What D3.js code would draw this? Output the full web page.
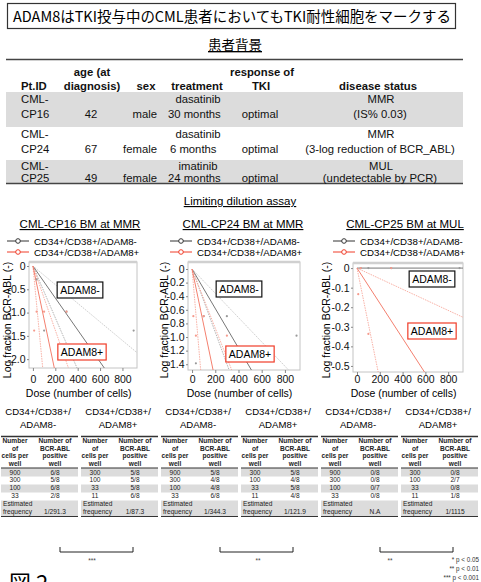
<!DOCTYPE html>
<html><head><meta charset="utf-8">
<script src="https://cdn.jsdelivr.net/npm/d3@7"></script>
<style>
body{margin:0;background:#fff}
svg{display:block;font-family:"Liberation Sans",Arial,sans-serif}
.jp{font-family:"Noto Sans CJK JP",sans-serif}
</style></head><body>
<svg width="481" height="582"></svg>
<script>
// patient background table
const patientIds = ["CML-CP16", "CML-CP24", "CML-CP25"];
const ages = [42, 67, 49];
const sexes = ["male", "female", "female"];
const drugs = ["dasatinib", "dasatinib", "imatinib"];
const durations = ["30 months", "6 months", "24 months"];
const responses = ["optimal", "optimal", "optimal"];
const statuses = ["MMR", "MMR", "MUL"];
const statusNotes = ["(IS% 0.03)", "(3-log reduction of BCR_ABL)", "(undetectable by PCR)"];

// limiting dilution assay
const chartTitles = ["CML-CP16 BM at MMR", "CML-CP24 BM at MMR", "CML-CP25 BM at MUL"];
const xTicks = [0, 200, 400, 600, 800];
const yTicks = [
  [0, -0.5, -1.0, -1.5, -2.0],
  [0, -0.2, -0.4, -0.6, -0.8, -1.0, -1.2, -1.4],
  [0, -0.1, -0.2, -0.3, -0.4, -0.5]
];
const negDoses = [900, 300, 100, 33];
const posDoses = [300, 100, 33, 11];
const negPositive = [[6, 5, 6, 2], [5, 4, 4, 6], [0, 0, 0, 0]];
const negWells = [[8, 8, 8, 8], [8, 8, 8, 8], [8, 8, 7, 8]];
const posPositive = [[5, 5, 5, 6], [5, 4, 5, 4], [0, 2, 0, 1]];
const posWells = [[8, 8, 8, 8], [8, 8, 8, 8], [8, 7, 8, 8]];
const negFreqText = ["1/291.3", "1/344.3", "N.A"];
const posFreqText = ["1/87.3", "1/121.9", "1/1115"];
// cells per positive cell: estimate and the two CI lines
const negEst = [291.3, 344.3, Infinity];
const negCiLo = [180, 215, null];
const negCiHi = [500, 560, null];
const posEst = [87.3, 121.9, 1115];
const posCiLo = [40, 50, 350];
const posCiHi = [145, 230, 3700];
const pStars = ["***", "**", "**"];
const pLegend = ["* p < 0.05", "** p < 0.01", "*** p < 0.001"];

const svg = d3.select("svg");

// title
svg.append("rect").attr("x", 7.5).attr("y", 3.5).attr("width", 448).attr("height", 25)
  .attr("fill", "none").attr("stroke", "#333").attr("stroke-width", 1.2);
svg.append("text").attr("class", "jp").attr("x", 13).attr("y", 22)
  .attr("font-size", 14.5).attr("textLength", 438).attr("lengthAdjust", "spacingAndGlyphs")
  .text("ADAM8はTKI投与中のCML患者においてもTKI耐性細胞をマークする");
svg.append("text").attr("class", "jp").attr("x", 235).attr("y", 50).attr("text-anchor", "middle")
  .attr("font-size", 13.5).style("text-decoration", "underline").text("患者背景");

// patient table
const rowTop = [92, 127, 160], rowBot = [127, 160, 183.5];
const lineY = [[103, 118], [138, 153], [170, 181.5]];
const tb = svg.append("g").attr("font-size", 11.3).attr("fill", "#111");
patientIds.forEach((id, i) => {
  if (i !== 1) tb.append("rect").attr("x", 6).attr("y", rowTop[i]).attr("width", 457)
    .attr("height", rowBot[i] - rowTop[i]).attr("fill", "#dcdcdc");
});
tb.append("line").attr("x1", 6).attr("x2", 463).attr("y1", 59.5).attr("y2", 59.5).attr("stroke", "#444").attr("stroke-width", 1.5);
tb.append("line").attr("x1", 6).attr("x2", 463).attr("y1", 183.5).attr("y2", 183.5).attr("stroke", "#444").attr("stroke-width", 1.5);
const hdr = [
  ["Pt.ID", 21, 90, "start"], ["age (at", 92, 75.5, "middle"], ["diagnosis)", 92, 90, "middle"],
  ["sex", 146, 90, "middle"], ["treatment", 197, 90, "middle"], ["response of", 262, 75.5, "middle"],
  ["TKI", 261, 90, "middle"], ["disease status", 378, 90, "middle"]
];
hdr.forEach(h => tb.append("text").attr("x", h[1]).attr("y", h[2]).attr("text-anchor", h[3])
  .attr("font-weight", "bold").text(h[0]));
patientIds.forEach((id, i) => {
  const [a, b] = lineY[i];
  const put = (t, x, y, anchor) => tb.append("text").attr("x", x).attr("y", y).attr("text-anchor", anchor).text(t);
  put(id.slice(0, 4), 21, a, "start");
  put(id.slice(4), 21, b, "start");
  put(ages[i], 91, b, "middle");
  put(sexes[i], 157, b, "end");
  put(drugs[i], 198, a, "middle");
  put(durations[i], i === 1 ? 170 : 168, b, "start");
  put(responses[i], 260, b, "middle");
  put(statuses[i], 381, a, "middle");
  put(statusNotes[i], 380, b, "middle");
});

svg.append("text").attr("x", 240).attr("y", 205).attr("text-anchor", "middle").attr("font-size", 11.5)
  .style("text-decoration", "underline").text("Limiting dilution assay");

// plots
const panels = [
  { l: 29, r: 137, t: 262, b: 368, yd: [0.086, -2.19], ox: 0, lab: 7, boxNeg: [80, 290], boxPos: [82, 352] },
  { l: 188, r: 300, t: 262, b: 370, yd: [0.103, -1.485], ox: 160, lab: 164, boxNeg: [239, 289], boxPos: [250, 354] },
  { l: 353, r: 463, t: 263, b: 372, yd: [0.026, -0.531], ox: 320, lab: 326, boxNeg: [432, 279], boxPos: [432, 331] }
];
const titleX = [80, 243, 405];
const legendX = [7, 170, 333];
const negCol = "#333", posCol = "#f03c28";

panels.forEach((p, i) => {
  const g = svg.append("g");
  const x = d3.scaleLinear().domain([-35, 930]).range([p.l, p.r]);
  const y = d3.scaleLinear().domain(p.yd).range([p.t, p.b]);

  g.append("text").attr("x", titleX[i]).attr("y", 228).attr("text-anchor", "middle").attr("font-size", 11.5)
    .style("text-decoration", "underline").text(chartTitles[i]);

  // legend
  [["CD34+/CD38+/ADAM8-", negCol], ["CD34+/CD38+/ADAM8+", posCol]].forEach((d, k) => {
    const ly = 241 + k * 11;
    const lx = legendX[i];
    g.append("line").attr("x1", lx).attr("x2", lx + 22).attr("y1", ly).attr("y2", ly).attr("stroke", d[1]).attr("stroke-width", 1);
    g.append("circle").attr("cx", lx + 11).attr("cy", ly).attr("r", 2.3).attr("fill", "#fff").attr("stroke", d[1]);
    g.append("text").attr("x", lx + 27).attr("y", ly + 3.5).attr("font-size", 9.7).text(d[0]);
  });

  // frame
  g.append("rect").attr("x", p.l).attr("y", p.t).attr("width", p.r - p.l).attr("height", p.b - p.t)
    .attr("fill", "none").attr("stroke", "#c4c4c4").attr("stroke-width", 1);
  g.append("line").attr("x1", p.l).attr("x2", p.r).attr("y1", p.t).attr("y2", p.t).attr("stroke", "#d0d0d0").attr("stroke-width", 2.5);

  const yAx = g.append("g").attr("transform", `translate(${p.l},0)`)
    .call(d3.axisLeft(y).tickValues(yTicks[i]).tickSize(2).tickPadding(1.5)
      .tickFormat(d => d === 0 ? "0" : d.toFixed(1)));
  const xAx = g.append("g").attr("transform", `translate(0,${p.b})`)
    .call(d3.axisBottom(x).tickValues(xTicks).tickSize(3));
  xAx.selectAll("text").attr("y", 383 - p.b).attr("dy", null);
  [yAx, xAx].forEach(a => {
    a.select(".domain").remove();
    a.selectAll("line").attr("stroke", "#888");
    a.selectAll("text").attr("font-size", 10.5).attr("font-family", "Liberation Sans, Arial, sans-serif").attr("fill", "#111");
  });
  g.append("text").attr("x", (x(0) + x(800)) / 2 + 1).attr("y", 396.5).attr("text-anchor", "middle")
    .attr("font-size", 10.5).text("Dose (number of cells)");
  g.append("text").attr("transform", `translate(${p.lab},320) rotate(-90)`).attr("text-anchor", "middle")
    .attr("dominant-baseline", "central").attr("font-size", 10.5).text("Log fraction BCR-ABL (-)");

  // lines
  const clipId = "clip" + i;
  g.append("clipPath").attr("id", clipId).append("rect")
    .attr("x", p.l).attr("y", p.t).attr("width", p.r - p.l).attr("height", p.b - p.t);
  const plot = g.append("g").attr("clip-path", `url(#${clipId})`);
  const ray = (cells, color, dash, w) => {
    if (cells == null) return;
    plot.append("line").attr("x1", x(0)).attr("y1", y(0)).attr("x2", x(930)).attr("y2", y(-930 / cells))
      .attr("stroke", color).attr("stroke-width", w).attr("stroke-dasharray", dash);
  };
  ray(negCiHi[i], "#c8c8c8", "1.5,1", 0.9);
  ray(negCiLo[i], "#aaa", "1.5,1", 0.9);
  ray(negEst[i], "#777", null, 1);
  ray(posCiHi[i], "#f7a89c", "1.5,1", 0.9);
  ray(posCiLo[i], "#f7a89c", "1.5,1", 0.9);
  ray(posEst[i], "#f4806f", null, 1);

  const dots = (doses, pos, wells, color) => {
    plot.selectAll(null).data(doses).enter().append("circle")
      .attr("cx", d => x(d))
      .attr("cy", (d, k) => y(Math.log((wells[k] - pos[k]) / wells[k])))
      .attr("r", 1.1).attr("fill", color);
  };
  dots(negDoses, negPositive[i], negWells[i], "#999");
  dots(posDoses, posPositive[i], posWells[i], "#f59a8c");

  // labels inside plot
  [["ADAM8-", p.boxNeg, "#111"], ["ADAM8+", p.boxPos, "#f03c28"]].forEach(d => {
    const t = g.append("text").attr("x", d[1][0]).attr("y", d[1][1] + 3.8).attr("text-anchor", "middle")
      .attr("font-size", 10.5).text(d[0]);
    const w = t.node().getComputedTextLength();
    g.insert("rect", () => t.node()).attr("x", d[1][0] - w / 2 - 3).attr("y", d[1][1] - 8)
      .attr("width", w + 6).attr("height", 16).attr("fill", "#fff").attr("stroke", d[2]).attr("stroke-width", 1.2);
  });

  // sub-tables
  [["ADAM8-", negDoses, negPositive[i], negWells[i], negFreqText[i]],
   ["ADAM8+", posDoses, posPositive[i], posWells[i], posFreqText[i]]].forEach((d, k) => {
    const tx = p.ox + k * 80 + 1;
    const cx = tx + 37;
    g.append("text").attr("x", cx).attr("y", 415).attr("text-anchor", "middle").attr("font-size", 9.6).text("CD34+/CD38+/");
    g.append("text").attr("x", cx).attr("y", 428).attr("text-anchor", "middle").attr("font-size", 9.6).text(d[0]);
    const st = g.append("g").attr("font-size", 6.6).attr("fill", "#222");
    [[468, 476.5], [484.5, 492.5], [500.5, 516]].forEach(b =>
      st.append("rect").attr("x", tx).attr("y", b[0]).attr("width", 77).attr("height", b[1] - b[0]).attr("fill", "#dcdcdc"));
    st.append("line").attr("x1", tx).attr("x2", tx + 77).attr("y1", 436.5).attr("y2", 436.5).attr("stroke", "#333").attr("stroke-width", 1.4);
    st.append("line").attr("x1", tx).attr("x2", tx + 77).attr("y1", 468).attr("y2", 468).attr("stroke", "#333").attr("stroke-width", 1.2);
    st.append("line").attr("x1", tx).attr("x2", tx + 77).attr("y1", 516.5).attr("y2", 516.5).attr("stroke", "#333").attr("stroke-width", 1);
    const c1 = tx + 14, c2 = tx + 54;
    ["Number", "of", "cells per", "well"].forEach((s, j) =>
      st.append("text").attr("x", c1).attr("y", 443 + j * 7.6).attr("text-anchor", "middle").attr("font-weight", "bold").text(s));
    ["Number of", "BCR-ABL", "positive", "well"].forEach((s, j) =>
      st.append("text").attr("x", c2).attr("y", 443 + j * 7.6).attr("text-anchor", "middle").attr("font-weight", "bold").text(s));
    d[1].forEach((dose, j) => {
      st.append("text").attr("x", c1).attr("y", 474.5 + j * 7.8).attr("text-anchor", "middle").text(dose);
      st.append("text").attr("x", c2).attr("y", 474.5 + j * 7.8).attr("text-anchor", "middle").text(d[2][j] + "/" + d[3][j]);
    });
    st.append("text").attr("x", tx + 2).attr("y", 506).text("Estimated");
    st.append("text").attr("x", tx + 2).attr("y", 514).text("frequency");
    st.append("text").attr("x", c2).attr("y", 514).attr("text-anchor", "middle").text(d[4]);
  });

  // bracket
  const bx1 = p.ox + 60, bx2 = p.ox + 133;
  g.append("path").attr("d", `M${bx1},547V552H${bx2}V547`).attr("fill", "none").attr("stroke", "#222").attr("stroke-width", 1);
  g.append("text").attr("x", [92, 258, 390][i]).attr("y", 563).attr("text-anchor", "middle")
    .attr("font-size", 6.5).attr("fill", "#444").text(pStars[i]);
});

pLegend.forEach((s, k) => svg.append("text").attr("x", 479).attr("y", 562 + k * 9).attr("text-anchor", "end")
  .attr("font-size", 6.3).attr("fill", "#333").text(s));

svg.append("text").attr("class", "jp").attr("x", 9).attr("y", 591).attr("font-size", 22).text("図 2");
</script></body></html>
